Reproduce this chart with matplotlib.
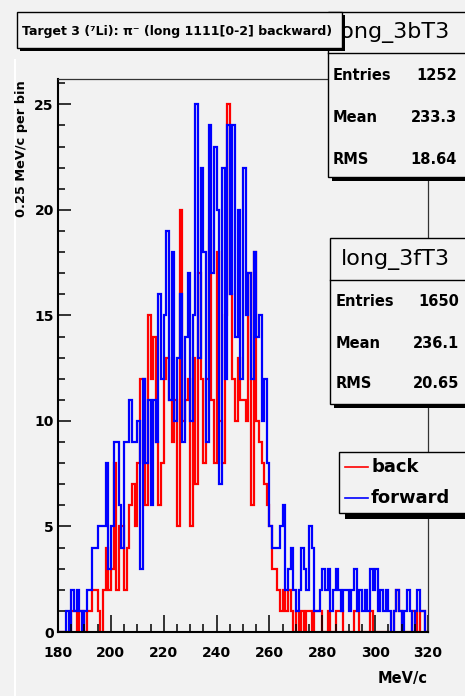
import numpy as np
import matplotlib
matplotlib.use('Agg')
import matplotlib.pyplot as plt
from matplotlib.patches import Rectangle
from matplotlib.lines import Line2D
from matplotlib.ticker import MultipleLocator

# bin edges in MeV/c and contents (one value per MeV/c)
lo_edge, hi_edge = 180, 320
back = [0, 0, 0, 0, 0, 1, 1, 0, 1, 1,
        0, 1, 1, 2, 2, 1, 0, 2, 4, 2,
        3, 8, 2, 5, 5, 2, 4, 6, 7, 5,
        8, 12, 12, 6, 15, 12, 14, 9, 6, 8,
        12, 13, 11, 9, 11, 5, 20, 10, 11, 12,
        5, 13, 7, 17, 12, 8, 12, 19, 11, 8,
        18, 10, 8, 15, 25, 16, 12, 10, 13, 11,
        11, 10, 17, 6, 18, 10, 9, 8, 7, 6,
        5, 3, 3, 2, 1, 2, 1, 2, 1, 0,
        1, 0, 1, 0, 1, 1, 0, 1, 1, 1,
        0, 0, 1, 0, 0, 1, 1, 1, 0, 0,
        0, 0, 1, 1, 0, 0, 0, 0, 1, 0,
        0, 0, 0, 0, 0, 0, 0, 1, 2, 1,
        0, 0, 0, 0, 1, 1, 0, 1, 1, 0]
forward = [0, 0, 0, 1, 0, 2, 1, 2, 1, 0,
           1, 2, 2, 4, 4, 5, 5, 5, 8, 3,
           5, 9, 9, 6, 4, 9, 9, 11, 9, 9,
           10, 3, 12, 8, 11, 6, 11, 9, 16, 12,
           15, 19, 11, 18, 10, 13, 16, 9, 14, 17,
           10, 15, 25, 13, 22, 18, 9, 24, 17, 23,
           20, 7, 22, 12, 24, 16, 24, 14, 20, 12,
           22, 15, 17, 12, 18, 14, 15, 10, 12, 8,
           5, 4, 4, 4, 5, 6, 2, 3, 4, 2,
           1, 2, 4, 3, 2, 5, 4, 1, 1, 2,
           3, 2, 3, 1, 2, 3, 2, 1, 2, 2,
           1, 2, 3, 1, 2, 1, 2, 1, 3, 2,
           3, 1, 2, 1, 2, 1, 0, 1, 2, 1,
           0, 1, 2, 1, 0, 1, 2, 1, 1, 0]

stats_b = [('Entries', '1252'), ('Mean', '233.3'), ('RMS', '18.64')]
stats_f = [('Entries', '1650'), ('Mean', '236.1'), ('RMS', '20.65')]
title = 'Target 3 (\u2077Li): \u03c0\u207b (long 1111[0-2] backward)'

BG = '#f2f2f2'
W, H = 465, 696
plt.rcParams['font.family'] = 'DejaVu Sans'
plt.rcParams['font.weight'] = 'bold'

def fx(x):
    return x / W

def fy(y):
    return 1 - y / H

fig = plt.figure(figsize=(W / 100, H / 100), dpi=100, facecolor=BG)
ax = fig.add_axes([fx(58), fy(632), (428 - 58) / W, (632 - 79) / H], facecolor=BG)

edges = np.arange(lo_edge, hi_edge + 1, 1)
ax.stairs(back, edges, color='#ff0000', lw=1.6, baseline=0)
ax.stairs(forward, edges, color='#0000ff', lw=1.6, baseline=0)

ax.set_xlim(lo_edge, hi_edge)
ax.set_ylim(0, 26.2)
ax.xaxis.set_major_locator(MultipleLocator(20))
ax.xaxis.set_minor_locator(MultipleLocator(5))
ax.yaxis.set_major_locator(MultipleLocator(5))
ax.yaxis.set_minor_locator(MultipleLocator(1))
ax.tick_params(axis='x', which='major', direction='in', length=12, width=1.1,
               labelsize=10, pad=10)
ax.tick_params(axis='x', which='minor', direction='in', length=6, width=1.1)
ax.tick_params(axis='y', which='major', direction='in', length=9, width=1.1,
               labelsize=10, pad=3)
ax.tick_params(axis='y', which='minor', direction='in', length=5, width=1.1)
for sp in ['left', 'bottom']:
    ax.spines[sp].set_linewidth(1.5)
for sp in ['top', 'right']:
    ax.spines[sp].set_linewidth(0.9)
    ax.spines[sp].set_color('#333333')

fig.text(fx(428), fy(678), 'MeV/c', ha='right', va='center', fontsize=10.5)
fig.text(fx(22), fy(80), '0.25 MeV/c per bin', rotation=90, ha='center', va='top',
         fontsize=9.3)

# thin white pad edge on the left
fig.add_artist(Line2D([fx(15), fx(15)], [fy(60), 0], color='white', lw=1.5, zorder=1))


def box(x0, y0, x1, y1, z, shadow=4):
    fig.add_artist(Rectangle((fx(x0 + shadow), fy(y1 + shadow)), (x1 - x0) / W, (y1 - y0) / H,
                             transform=fig.transFigure, facecolor='black',
                             edgecolor='none', zorder=z))
    fig.add_artist(Rectangle((fx(x0), fy(y1)), (x1 - x0) / W, (y1 - y0) / H,
                             transform=fig.transFigure, facecolor=BG,
                             edgecolor='black', lw=1, zorder=z + 0.1))


def stats(x0, y0, y1, ydiv, name, xname, rows, rowy, xl, xr, z):
    box(x0, y0, 475, y1, z)
    fig.add_artist(Line2D([fx(x0), fx(475)], [fy(ydiv), fy(ydiv)], color='black',
                          lw=1, zorder=z + 0.2))
    fig.text(fx(xname), fy((y0 + ydiv) / 2), name, ha='left', va='center',
             fontsize=16, fontweight='normal', zorder=z + 0.3)
    for (lab, val), yy in zip(rows, rowy):
        fig.text(fx(xl), fy(yy), lab, ha='left', va='center', fontsize=10.5, zorder=z + 0.3)
        fig.text(fx(xr), fy(yy), val, ha='right', va='center', fontsize=10.5, zorder=z + 0.3)


stats(328, 12, 177, 53, 'long_3bT3', 335, stats_b, [75, 118, 159], 333, 457, 5)
stats(330, 238, 404, 280, 'long_3fT3', 341, stats_f, [301, 343, 384], 336, 459, 5)

# title box
box(17, 12, 342, 48, 8, shadow=3)
fig.text(fx(22), fy(31), title, ha='left', va='center', fontsize=9, zorder=9)

# legend
box(339, 452, 475, 513, 8, shadow=6)
for lab, col, yy in [('back', '#ff0000', 467), ('forward', '#0000ff', 498)]:
    fig.add_artist(Line2D([fx(345), fx(368)], [fy(yy), fy(yy)], color=col, lw=1.2, zorder=9))
    fig.text(fx(371), fy(yy), lab, ha='left', va='center', fontsize=13, zorder=9)

fig.savefig('out.png', dpi=100, facecolor=BG)
